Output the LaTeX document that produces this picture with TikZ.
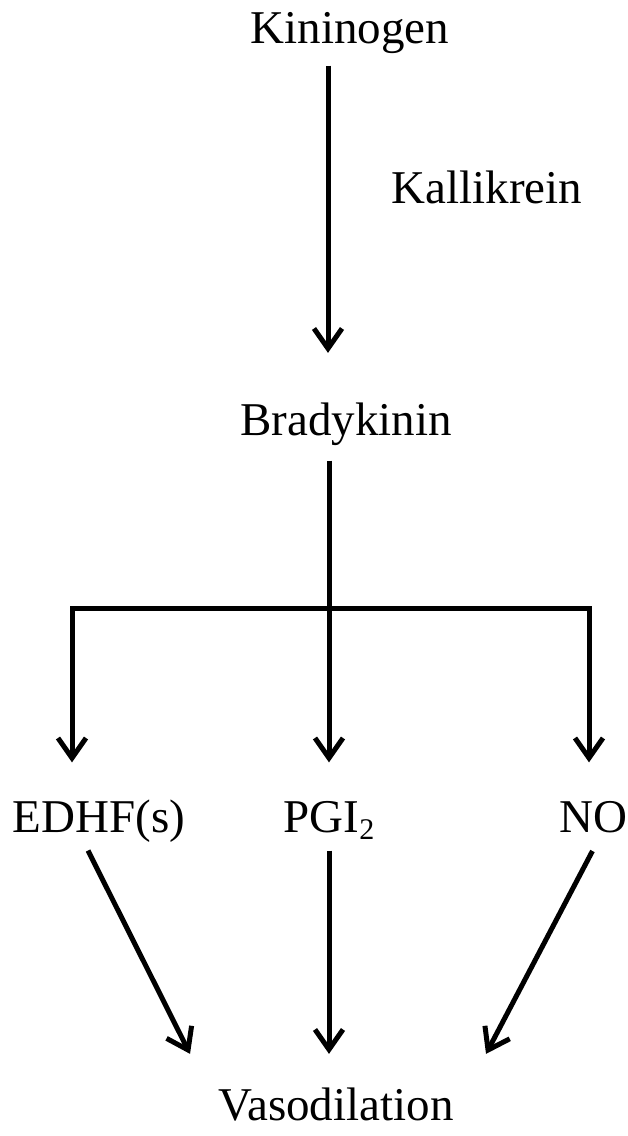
\documentclass[tikz,border=0pt]{standalone}
\usepackage{fontspec}
\setmainfont{Liberation Serif}
\usepackage{tikz}
\usetikzlibrary{arrows.meta}

\tikzset{
	lbl/.style={black, font=\fontsize{47}{50}\selectfont, inner sep=3.33pt},
	arr/.style={draw=black, line width=5pt, -{Straight Barb[length=20pt,width=28pt]}},
	plain/.style={draw=black, line width=5pt}
}

\begin{document}
\begin{tikzpicture}[x=1pt, y=-1pt]
	\useasboundingbox (0,0) rectangle (628,1136);
	\node[lbl, anchor=base] (kin) at (350,43) {Kininogen};
	\node[lbl, anchor=base] (kal) at (487,203) {Kallikrein};
	\node[lbl, anchor=base west] (brad) at (237,435) {Bradykinin};
	\node[lbl, anchor=base] (edhf) at (99,832) {EDHF(s)};
	\node[lbl, anchor=base west] (pgi) at (280,832) {PGI\raisebox{-7pt}{\fontsize{30}{30}\selectfont 2}};
	\node[lbl, anchor=base west] (no) at (556,832) {NO};
	\node[lbl, anchor=base west] (vaso) at (215,1120) {Vasodilation};
	\coordinate (split) at (329,608);
	\coordinate (lsplit) at (72,608);
	\coordinate (rsplit) at (589,608);
	% kininogen -> bradykinin
	\draw[arr, shorten <=9pt, shorten >=46pt] (kin.south -| 328,0) -- (brad.north -| 328,0);
	% bradykinin -> three mediators
	\draw[arr, shorten <=12pt, shorten >=35pt] (brad.south -| split) -- (pgi.north -| split);
	\draw[arr, shorten >=35pt] (split) -- (lsplit) -- (lsplit |- pgi.north);
	\draw[arr, shorten >=35pt] (split) -- (rsplit) -- (rsplit |- pgi.north);
	% mediators -> vasodilation
	\draw[arr] ([xshift=-11pt,yshift=-5pt]edhf.south) -- ([xshift=-146pt,yshift=30pt]vaso.north);
	\draw[arr, shorten <=8pt, shorten >=30pt] (pgi.south -| split) -- (vaso.north -| split);
	\draw[arr] ([xshift=-1pt,yshift=-15pt]no.south) -- ([xshift=150pt,yshift=30pt]vaso.north);
\end{tikzpicture}
\end{document}
